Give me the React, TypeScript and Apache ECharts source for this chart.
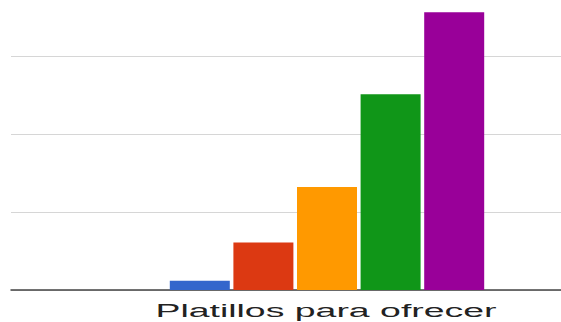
import React, { useEffect, useRef } from "react";
import * as echarts from "echarts";

const categories = ["Platillos para ofrecer"];
const seriesNames = ["A", "B", "C", "D", "E"];
const seriesValues = [0.12, 0.61, 1.32, 2.51, 3.56];
const seriesColors = ["#3366cc", "#dc3912", "#ff9900", "#109618", "#990099"];
const yTicks = [0, 1, 2, 3, 4];

export default function App() {
  const ref = useRef<HTMLDivElement>(null);
  useEffect(() => {
    if (!ref.current) return;
    const chart = echarts.init(ref.current, null, { renderer: "svg" });
    chart.setOption({
      animation: false,
      backgroundColor: "#ffffff",
      grid: { left: 11, right: 7, top: 0, bottom: 32 },
      xAxis: {
        type: "category",
        data: categories,
        axisLine: { show: true, lineStyle: { color: "#444444", width: 1.5 } },
        axisTick: { show: false },
        axisLabel: { show: false },
      },
      yAxis: {
        type: "value",
        min: yTicks[0],
        max: yTicks[yTicks.length - 1],
        interval: 1,
        axisLine: { show: false },
        axisTick: { show: false },
        axisLabel: { show: false },
        splitLine: { show: true, lineStyle: { color: "#d6d6d6", width: 1 } },
      },
      series: seriesNames.map((name, i) => ({
        name,
        type: "bar",
        data: [seriesValues[i]],
        barWidth: 60,
        barGap: "6%",
        itemStyle: { color: seriesColors[i] },
      })),
      graphic: [
        {
          type: "text",
          x: 326,
          y: 324,
          scaleX: 2.08,
          style: {
            text: categories[0],
            x: 0,
            y: 0,
            align: "center",
            verticalAlign: "top",
            fontFamily: "Liberation Sans, Arial, sans-serif",
            fontSize: 18,
            fill: "#222222",
          },
        },
      ],
    });
    return () => chart.dispose();
  }, []);
  return (
    <div
      style={{ position: "fixed", left: 0, top: 0, width: 561, height: 322, overflow: "hidden", background: "#fff" }}
    >
      <div
        ref={ref}
        style={{ position: "absolute", left: 0, top: -22, width: 650, height: 344 }}
      />
    </div>
  );
}
